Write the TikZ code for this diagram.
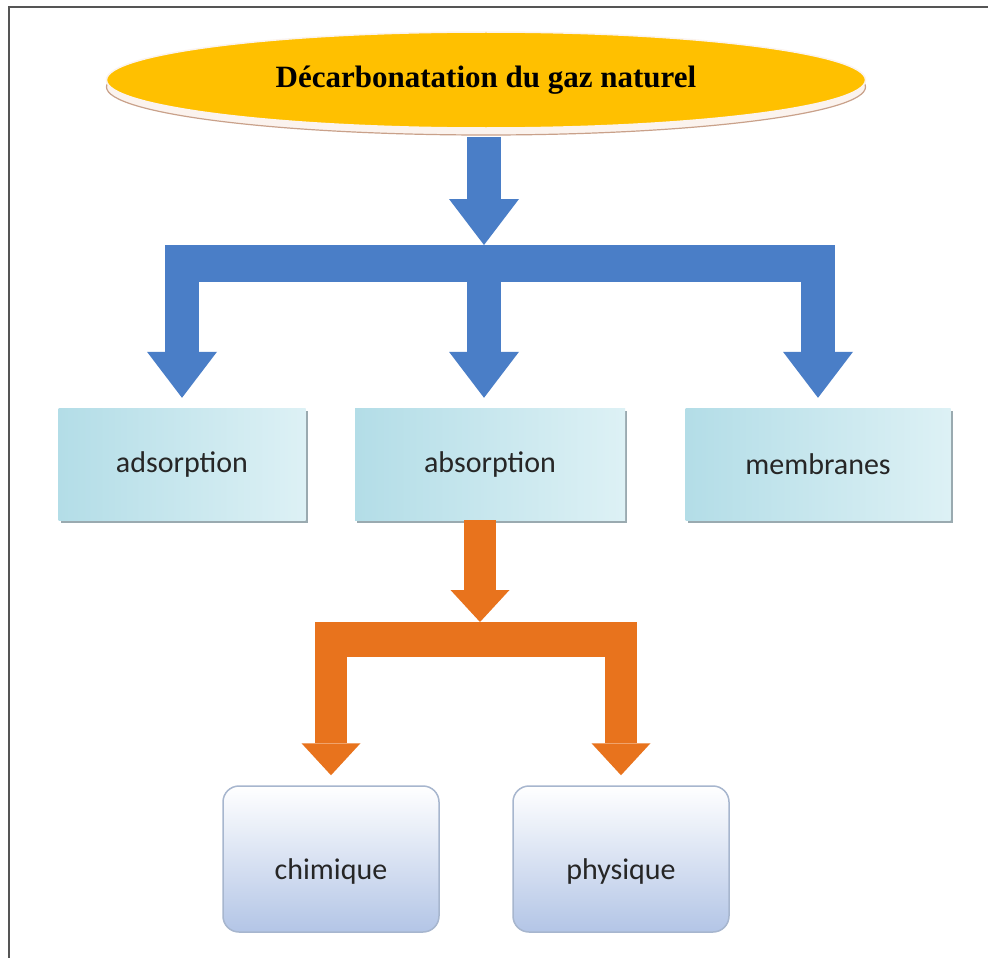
\documentclass[tikz,border=0pt]{standalone}
\usepackage{fontspec}
\setmainfont{Liberation Serif}
\newfontfamily\LabelFont{Carlito}
\usetikzlibrary{arrows.meta,shapes.geometric,shadows}
\definecolor{titlegold}{HTML}{FFC000}
\definecolor{rimbrown}{HTML}{C9A18A}
\definecolor{rimwhite}{HTML}{FBF3EE}
\definecolor{flowblue}{HTML}{4A7EC7}
\definecolor{floworange}{HTML}{E8731D}
\definecolor{boxcyan}{HTML}{B3DDE7}
\definecolor{boxpale}{HTML}{DDF1F5}
\definecolor{boxshade}{HTML}{9AAAB0}
\definecolor{boxlav}{HTML}{B3C5E6}
\definecolor{boxedge}{HTML}{A7B6CE}
\definecolor{labelgray}{HTML}{262626}
\definecolor{framegray}{HTML}{555555}
\newcommand{\TitleFont}{\fontsize{31}{36}\selectfont\bfseries}
\newcommand{\BoxFont}{\LabelFont\fontsize{30}{36}\selectfont}
\newcommand{\MethodBox}[4]{%
  \node[methodbox,minimum width=#3] (#1) at (#2,464) {#4};
}
\newcommand{\KindBox}[3]{%
  \node[kindbox,label={[kindlabel]center:#3}] (#1) at (#2,859) {};
}

\begin{document}
\begin{tikzpicture}[x=1pt,y=-1pt,
  titleoval/.style={ellipse,fill=titlegold,draw=rimwhite,line width=1.5pt,
    minimum width=759pt,minimum height=96pt,inner sep=0pt,font=\TitleFont,
    general shadow={shadow yshift=-7pt,fill=rimwhite,draw=rimbrown,line width=1.2pt}},
  methodbox/.style={rectangle,left color=boxcyan,right color=boxpale,
    minimum height=112pt,inner sep=0pt,font=\BoxFont,text=labelgray,
    general shadow={shadow xshift=2pt,shadow yshift=-3pt,fill=boxshade}},
  kindbox/.style={rectangle,rounded corners=16pt,top color=white,bottom color=boxlav,
    draw=boxedge,line width=1.5pt,minimum width=216pt,minimum height=146pt},
  kindlabel/.style={yshift=-12pt,font=\BoxFont,text=labelgray},
  bluearrow/.style={draw=flowblue,line width=34pt,
    -{Triangle[width=70pt,length=46pt,line width=0pt]}},
  bluebar/.style={draw=flowblue,line width=37pt},
  orangearrow/.style={draw=floworange,line width=32pt,
    -{Triangle[width=59pt,length=32pt,line width=0pt]}},
  orangebar/.style={draw=floworange,line width=35pt}]
  \useasboundingbox (0,0) rectangle (988,958);
  \fill[white] (0,0) rectangle (988,958);
  \draw[framegray,line width=2.5pt] (9,958) -- (9,7) -- (988,7);

  \node[titleoval] (title) at (486,80) {Décarbonatation du gaz naturel};

  \MethodBox{adsorption}{182}{247pt}{adsorption}
  \MethodBox{absorption}{490}{270pt}{absorption}
  \MethodBox{membranes}{818}{265pt}{membranes}

  \KindBox{chimique}{331}{chimique}
  \KindBox{physique}{621}{physique}

  \coordinate (blueBar) at (484,245);
  \coordinate (orangeBar) at (480,622);

  \draw[bluearrow] ([yshift=-8pt]title.south -| blueBar) -- (blueBar);
  \draw[bluebar] (adsorption.north |- 0,263.5) -- (membranes.north |- 0,263.5);
  \draw[bluearrow,shorten >=10pt] (adsorption.north |- blueBar) -- (adsorption.north);
  \draw[bluearrow,shorten >=10pt] (blueBar) -- (blueBar |- absorption.north);
  \draw[bluearrow,shorten >=10pt] (membranes.north |- blueBar) -- (membranes.north);

  \draw[orangearrow] (absorption.south -| orangeBar) -- (orangeBar);
  \draw[orangebar] (chimique.north |- 0,639.5) -- (physique.north |- 0,639.5);
  \draw[orangearrow,shorten >=10pt] (chimique.north |- orangeBar) -- (chimique.north);
  \draw[orangearrow,shorten >=10pt] (physique.north |- orangeBar) -- (physique.north);
\end{tikzpicture}
\end{document}
